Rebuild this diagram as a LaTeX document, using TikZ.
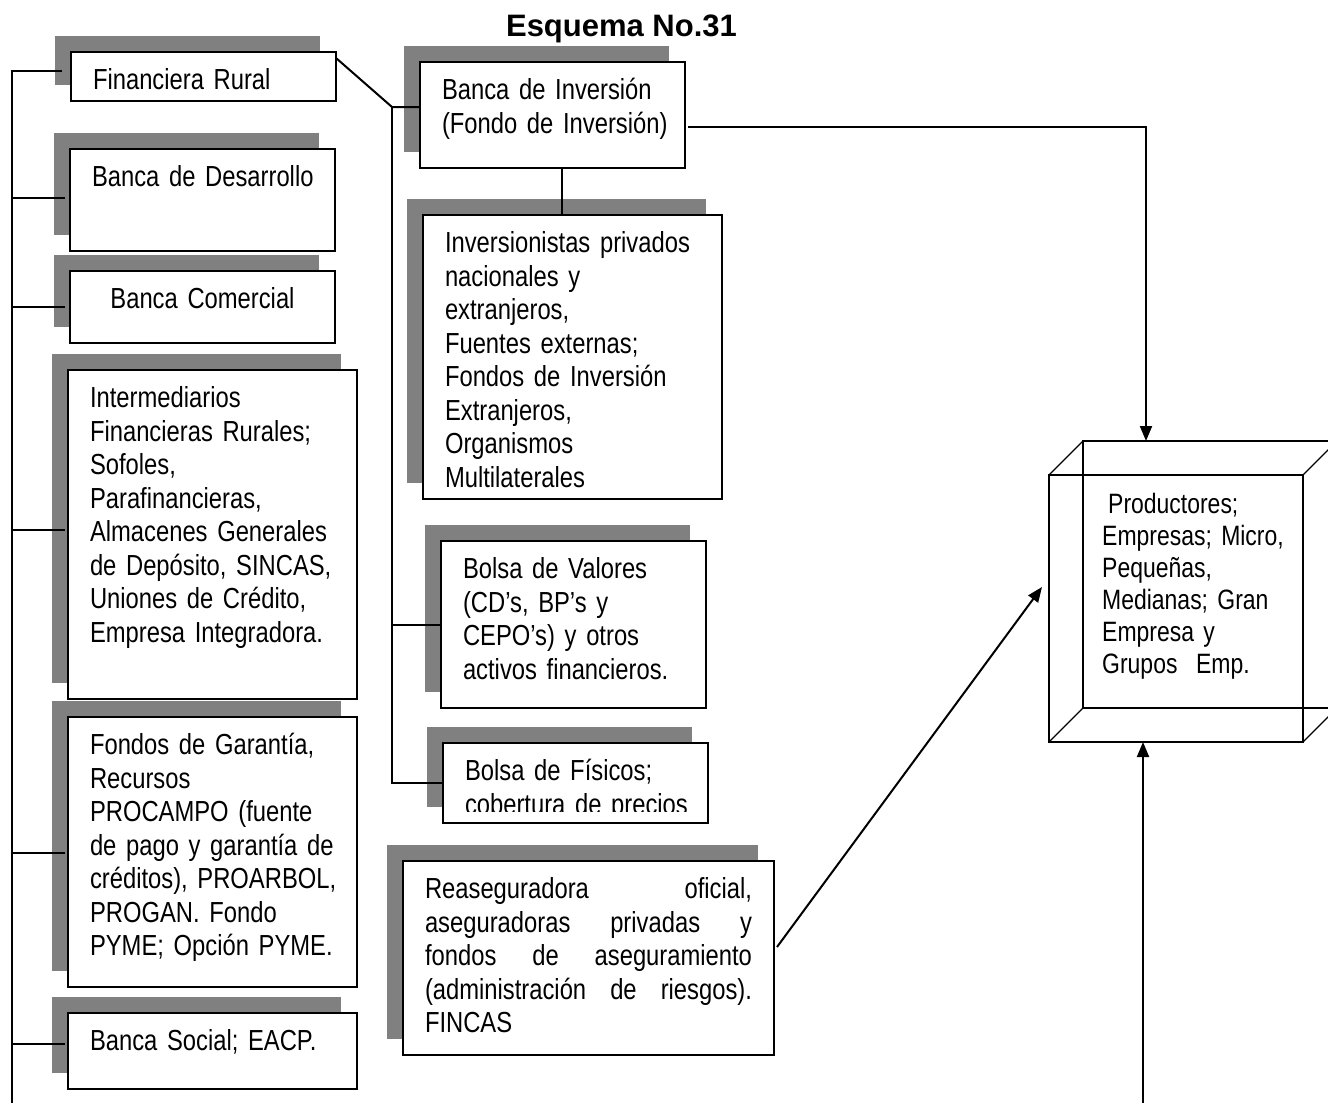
\documentclass[tikz,border=0pt]{standalone}
\usepackage{fontspec}
\setmainfont{Liberation Sans}[FakeStretch=0.82]
\newfontfamily\headfont{Liberation Sans}
\usetikzlibrary{shadows,calc,arrows.meta}
\definecolor{shadowgray}{RGB}{128,128,128}
% narrow text with interword space scaled like the glyphs
\newcommand\bxfont{\fontsize{29pt}{33.5pt}\selectfont
  \fontdimen2\font=6.6pt \fontdimen3\font=3.3pt \fontdimen4\font=2.2pt \frenchspacing}
\newcommand\cubefont{\fontsize{28pt}{32pt}\selectfont
  \fontdimen2\font=6.4pt \fontdimen3\font=3.2pt \fontdimen4\font=2.1pt \frenchspacing}

\begin{document}
\begin{tikzpicture}[x=1pt,y=-1pt,
  box/.style={draw, line width=2pt, fill=white, anchor=north west, outer sep=0pt,
    inner xsep=22pt, inner ysep=0pt, align=left, text height=37.5pt, font=\bxfont,
    drop shadow={shadow xshift=-16pt, shadow yshift=16pt, fill=shadowgray, opacity=1}},
  link/.style={line width=2pt},
  feed/.style={line width=2pt, -{Triangle[length=15pt,width=12pt]}},
  wire/.style={line width=1.2pt}
]
\path[use as bounding box, fill=white] (0,0) rectangle (1328,1103);

% title
\node[font=\headfont\bfseries\fontsize{31pt}{36pt}\selectfont, anchor=base, inner sep=0pt] (title) at (621.5,36) {Esquema No.31};

% left column
\node[box, text width=221pt, text depth=11.5pt] (fin) at (71,52) {Financiera Rural};
\node[box, text width=221pt, text depth=64.5pt, align=center] (desa) at (70,149) {\mbox{Banca de Desarrollo}};
\node[box, text width=221pt, text depth=34.5pt, align=center] (come) at (70,271) {Banca Comercial};
\node[box, text width=245pt, text depth=291.5pt] (inter) at (68,370)
  {Intermediarios\\ Financieras Rurales;\\ Sofoles,\\ Parafinancieras,\\ \mbox{Almacenes Generales}\\ \mbox{de Depósito, SINCAS,}\\ Uniones de Crédito,\\ \mbox{Empresa Integradora.}};
\node[box, text width=245pt, text depth=232.5pt] (fond) at (68,717)
  {Fondos de Garantía,\\ Recursos\\ PROCAMPO (fuente\\ \mbox{de pago y garantía de}\\ \mbox{créditos), PROARBOL,}\\ PROGAN. Fondo\\ \mbox{PYME; Opción PYME.}};
\node[box, text width=245pt, text depth=38.5pt] (soc) at (68,1013) {Banca Social; EACP.};

% middle column
\node[box, text width=221pt, text depth=68.5pt] (binv) at (420,62)
  {Banca de Inversión\\ \mbox{(Fondo de Inversión)}};
\node[box, text width=255pt, text depth=246.5pt] (invr) at (423,215)
  {\mbox{Inversionistas privados}\\ nacionales y\\ extranjeros,\\ Fuentes externas;\\ Fondos de Inversión\\ Extranjeros,\\ Organismos\\ Multilaterales};
\node[box, text width=221pt, text depth=129.5pt] (bval) at (441,541)
  {Bolsa de Valores\\ (CD’s, BP’s y\\ CEPO’s) y otros\\ \mbox{activos financieros.}};
\node[box, text width=221pt, text depth=42.5pt] (bfis) at (443,743)
  {Bolsa de Físicos;\\ \mbox{cobertura de precios}};
% the frame cuts off the lower part of the second line
\fill[white] ($(bfis.south west)+(1,-1)$) rectangle ($(bfis.south east)+(-1,-11)$);
\node[box, text width=327pt, text depth=156.5pt, align=justify] (rease) at (403,861)
  {Reaseguradora oficial,\linebreak aseguradoras privadas y\linebreak fondos de aseguramiento\linebreak (administración de riesgos).\linebreak FINCAS};

% recipients: wire-frame cube
\node[draw, wire, minimum width=254pt, minimum height=267pt, inner sep=0pt, outer sep=0pt, anchor=north west] (cube) at (1049,475) {};
\draw[wire] ($(cube.north west)+(34,-34)$) rectangle ($(cube.south east)+(34,-34)$);
\foreach \c in {north west, north east, south west, south east}
  \draw[wire] (cube.\c) -- ($(cube.\c)+(34,-34)$);
\node[font=\cubefont, anchor=base west, align=left, text width=210pt, inner sep=0pt] (cubetext) at (1102,513)
  {\hspace*{6pt}Productores;\\ Empresas; Micro,\\ Pequeñas,\\ Medianas; Gran\\ Empresa y\\ Grupos~~Emp.};

% left trunk
\coordinate (ltop) at (12,71);
\coordinate (lend) at (12,1103);
\draw[link] ($(fin.west)+(-9,-5.5)$) -- (ltop) -- (lend);
\foreach \b/\dx/\dy in {desa/-5/-2, come/-5/0, inter/-3/-4.5, fond/-3/1, soc/-3/-7}
  \draw[link] ($(\b.west)+(\dx,\dy)$) coordinate (e) -- (e -| ltop);

% middle trunk
\coordinate (mj) at ($(binv.west)+(-28,-8)$);
\draw[link] ($(fin.north east)+(0,6)$) -- (mj) -- ($(binv.west)+(0,-8)$);
\draw[link] (mj) -- (mj |- bfis.west) -- (bfis.west);
\draw[link] (mj |- bval.west) -- (bval.west);
\draw[link] ($(binv.south)+(9.5,0)$) coordinate (d) -- (d |- invr.north);

% flows into the cube
\draw[feed] ($(binv.east)+(3,12)$) -| ($(cube.north)+(-30,-34)$);
\draw[feed] ($(rease.east)+(3,-11)$) -- ($(cube.west)+(-7,-21.5)$);
\coordinate (base) at (1143,1103);
\draw[feed] (base) -- ($(cube.south)+(-33,0)$);
\end{tikzpicture}
\end{document}
